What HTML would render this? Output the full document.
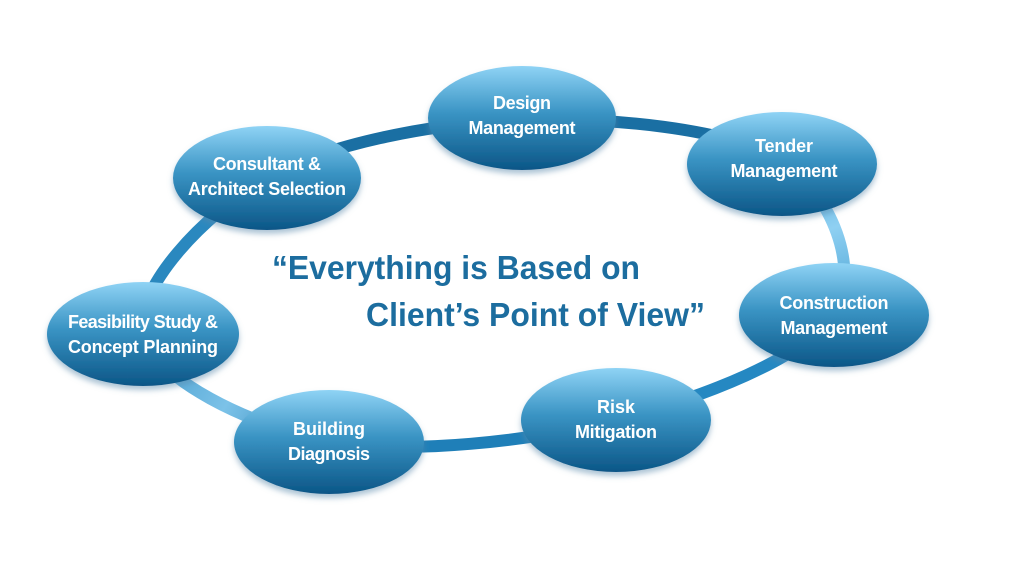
<!DOCTYPE html>
<html><head><style>
html,body{margin:0;padding:0;background:#fff;}
svg{display:block;}
.n{font-family:"Liberation Sans",sans-serif;font-weight:bold;font-size:18px;fill:#fff;text-anchor:middle;}
.q{font-family:"Liberation Sans",sans-serif;font-weight:bold;font-size:33px;fill:#1c6d9f;}
</style></head><body>
<svg width="1024" height="576" viewBox="0 0 1024 576">
<defs>
<linearGradient id="g" x1="0" y1="0" x2="0" y2="1">
<stop offset="0" stop-color="#8fd3f5"/><stop offset="0.45" stop-color="#3a94c4"/><stop offset="1" stop-color="#0b5687"/>
</linearGradient>
<linearGradient id="rr" gradientUnits="userSpaceOnUse" x1="780" y1="160" x2="834" y2="314">
<stop offset="0" stop-color="#4aa3d4"/><stop offset="0.5" stop-color="#8fd0f2"/><stop offset="1" stop-color="#4aa3d4"/>
</linearGradient>
<linearGradient id="ll" gradientUnits="userSpaceOnUse" x1="143" y1="334" x2="329" y2="441">
<stop offset="0" stop-color="#3e97c9"/><stop offset="0.5" stop-color="#7cc2e8"/><stop offset="1" stop-color="#2b86bb"/>
</linearGradient>
<filter id="s" x="-20%" y="-20%" width="140%" height="150%"><feDropShadow dx="0" dy="4" stdDeviation="3" flood-color="#5a88aa" flood-opacity="0.5"/></filter>
</defs>
<g fill="none" stroke-width="12" stroke-linecap="round">
<path d="M522,120 C607.5,117 728,127.7 780,160" stroke="#1a6fa3"/>
<path d="M780,160 C832,192.3 861.3,270.7 834,314" stroke="url(#rr)"/>
<path d="M834,314 C806.7,357.3 700.2,398.8 616,420" stroke="#2588c2"/>
<path d="M616,420 C531.8,441.2 407.8,455.3 329,441" stroke="#1f7fb8"/>
<path d="M329,441 C250.2,426.7 153.3,377.8 143,334" stroke="url(#ll)"/>
<path d="M143,334 C132.7,290.2 203.8,213.7 267,178" stroke="#2a88bf"/>
<path d="M267,178 C330.2,142.3 436.5,123 522,120" stroke="#1a6fa3"/>
</g>
<g filter="url(#s)" fill="url(#g)">
<ellipse cx="522" cy="118" rx="94" ry="52"/>
<ellipse cx="782" cy="164" rx="95" ry="52"/>
<ellipse cx="267" cy="178" rx="94" ry="52"/>
<ellipse cx="834" cy="315" rx="95" ry="52"/>
<ellipse cx="143" cy="334" rx="96" ry="52"/>
<ellipse cx="616" cy="420" rx="95" ry="52"/>
<ellipse cx="329" cy="442" rx="95" ry="52"/>
</g>
<text class="n" x="522" y="109" textLength="58">Design</text><text class="n" x="522" y="134" textLength="107">Management</text>
<text class="n" x="784" y="152" textLength="58">Tender</text><text class="n" x="784" y="177" textLength="107">Management</text>
<text class="n" x="267" y="170" textLength="108">Consultant &amp;</text><text class="n" x="267" y="195" textLength="158">Architect Selection</text>
<text class="n" x="834" y="309" textLength="109">Construction</text><text class="n" x="834" y="334" textLength="107">Management</text>
<text class="n" x="143" y="328" textLength="150">Feasibility Study &amp;</text><text class="n" x="143" y="353" textLength="150">Concept Planning</text>
<text class="n" x="616" y="413" textLength="38">Risk</text><text class="n" x="616" y="438" textLength="82">Mitigation</text>
<text class="n" x="329" y="435" textLength="72">Building</text><text class="n" x="329" y="460" textLength="82">Diagnosis</text>
<text class="q" x="272" y="279" textLength="368" lengthAdjust="spacingAndGlyphs">“Everything is Based on</text>
<text class="q" x="366" y="326" textLength="339" lengthAdjust="spacingAndGlyphs">Client’s Point of View”</text>
</svg>
</body></html>
